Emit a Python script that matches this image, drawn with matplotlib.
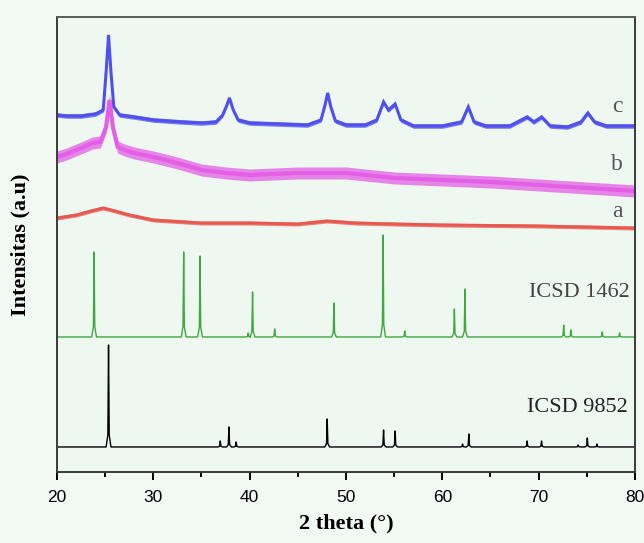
import numpy as np
import matplotlib.pyplot as plt
from matplotlib.ticker import MultipleLocator

# Diffractogrammes expérimentaux (x = 2 theta, y = intensité décalée)
c_x = [20, 21, 22.5, 24, 24.8, 25.1, 25.35, 25.6, 25.9, 26.5, 28, 30, 33, 35, 36.5, 37.2, 37.6,
       37.9, 38.3, 38.8, 40, 43, 46, 47.4, 47.8, 48.1, 48.4, 48.9, 50, 52, 53.2, 53.9, 54.4,
       55.1, 55.7, 57, 60, 62, 62.7, 63.3, 64.5, 67, 68.8, 69.5, 70.3, 71.2, 73, 74.4, 75.1,
       75.8, 77, 80]
c_y = [357, 356, 356, 358, 362, 400, 437, 400, 365, 357, 355, 352, 350, 349, 350, 357, 366,
       374, 362, 352, 349, 348, 347, 352, 366, 379, 366, 351, 347, 347, 352, 370, 362,
       368, 352, 346, 346, 350, 365, 350, 346, 346, 355, 350, 355, 346, 345, 350, 359,
       350, 346, 346]

b_x = [20, 21, 22, 23, 23.7, 24.5, 25.1, 25.45, 25.8, 26.3, 27, 28, 30, 32.5, 35, 37.5, 40,
       45, 50, 55, 60, 65, 70, 75, 80]
b_y = [315, 318, 322, 326, 329, 330, 345, 372, 345, 325, 322, 319, 315, 309, 302, 299, 297,
       299, 299, 294, 292, 290, 287, 284, 281]

a_x = [20, 22, 23.5, 24.8, 26, 27.5, 30, 35, 40, 45, 48, 51, 55, 60, 70, 80]
a_y = [254, 257, 261, 264, 261, 257, 252, 249, 249, 248, 251, 249, 248, 247, 246, 244]

# Raies de référence ICSD (position, hauteur)
icsd1462_pos = [23.85, 33.15, 34.85, 39.85, 40.3, 42.6, 48.75, 53.85, 56.1, 61.25, 62.35,
                72.6, 73.35, 76.6, 78.4]
icsd1462_h = [85, 85, 81, 4, 45, 8, 34, 102, 6, 28, 48, 12, 7, 5, 4]
icsd1462_base = 135

icsd9852_pos = [25.35, 36.95, 37.85, 38.6, 48.05, 53.9, 55.1, 62.1, 62.75, 68.8, 70.3,
                74.1, 75.05, 76.05]
icsd9852_h = [102, 6, 20, 5, 28, 17, 16, 3, 13, 6, 6, 2, 9, 3]
icsd9852_base = 25


def raies(pos, h, base):
    # profil étroit pour chaque raie
    xs, ys = [20], [base]
    for p, hh in zip(pos, h):
        xs += [p - 0.25, p - 0.07, p, p + 0.07, p + 0.25]
        ys += [base, base + 0.12 * hh, base + hh, base + 0.12 * hh, base]
    xs.append(80)
    ys.append(base)
    return xs, ys


fig = plt.figure(figsize=(6.44, 5.43), dpi=100, facecolor="#f2f9f3")
ax = fig.add_axes([0.0885, 0.1308, 0.8975, 0.8379])
ax.set_facecolor("#eef7f0")

# bande = épaisseur du bruit
for xx, yy, col, w, lw in [(a_x, a_y, "#e8584f", 2.0, 2.0),
                           (b_x, b_y, "#e45fe6", 6.0, 3.0),
                           (c_x, c_y, "#5050ee", 2.3, 2.2)]:
    xx = np.array(xx)
    yy = np.array(yy)
    ax.fill_between(xx, yy - w, yy + w, color=col, lw=0, alpha=0.75)
    ax.plot(xx, yy, color=col, lw=lw, solid_joinstyle="miter")

gx, gy = raies(icsd1462_pos, icsd1462_h, icsd1462_base)
ax.plot(gx, gy, color="#3fa83f", lw=1.0)
kx, ky = raies(icsd9852_pos, icsd9852_h, icsd9852_base)
ax.plot(kx, ky, color="black", lw=1.0)

serif = "Liberation Serif"
ax.text(78.15, 365, "c", fontsize=17, family=serif, color="#555555", ha="center", va="center")
ax.text(78.15, 307, "b", fontsize=17, family=serif, color="#555555", ha="center", va="center")
ax.text(78.15, 260, "a", fontsize=17, family=serif, color="#555555", ha="center", va="center")
ax.text(79.5, 179, "ICSD 1462", fontsize=16, family=serif, color="#444444", ha="right", va="center")
ax.text(79.3, 64, "ICSD 9852", fontsize=16, family=serif, color="#222222", ha="right", va="center")

ax.set_xlim(20, 80)
ax.set_ylim(0, 455)
ax.xaxis.set_major_locator(MultipleLocator(10))
ax.xaxis.set_minor_locator(MultipleLocator(5))
ax.tick_params(axis="x", which="major", direction="out", length=6, width=1.4, labelsize=12.5, pad=7)
ax.tick_params(axis="x", which="minor", direction="out", length=3.5, width=1.4)
ax.set_yticks([])
for lab in ax.get_xticklabels():
    lab.set_family("Liberation Sans")
for s in ax.spines.values():
    s.set_linewidth(1.4)
    s.set_color("#3a3a3a")
ax.spines["top"].set_color("#555f58")

ax.set_xlabel("2 theta (°)", fontsize=16, family=serif, fontweight="bold", labelpad=6)
ax.set_ylabel("Intensitas (a.u)", fontsize=16, family=serif, fontweight="bold", labelpad=19)

plt.savefig("out.png", dpi=100, facecolor=fig.get_facecolor())
